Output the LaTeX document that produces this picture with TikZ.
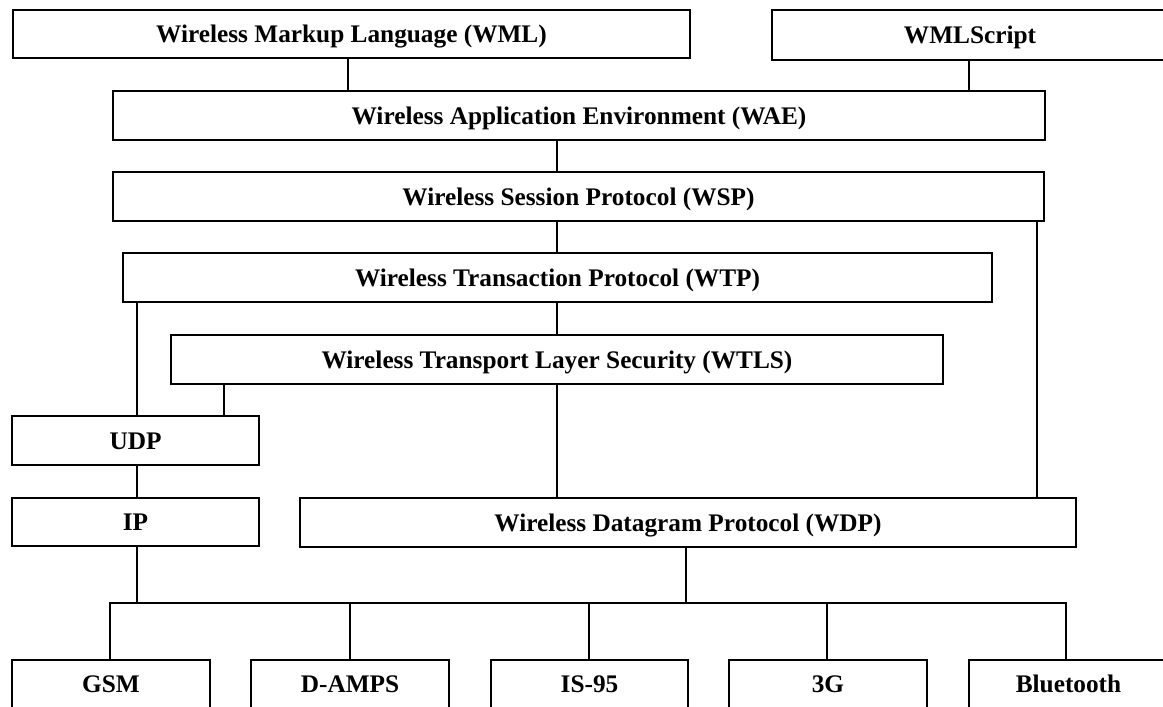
\documentclass[tikz,border=0pt]{standalone}
\usepackage{fontspec}
\setmainfont{Liberation Serif}
\begin{document}
\begin{tikzpicture}[x=1pt,y=-1pt,
  box/.style={draw=black, line width=1.3pt, rectangle, inner sep=0pt, text height=17pt, text depth=0pt, font=\fontsize{25.3}{30}\selectfont\bfseries},
  conn/.style={draw=black, line width=1.3pt}]
\useasboundingbox (0,0) rectangle (1163,707);
\clip (0,0) rectangle (1163,707);
% boxes
\node[box, minimum width=677pt, minimum height=48pt] (wml) at (351.5,34) {Wireless Markup Language (WML)};
\node[box, minimum width=396pt, minimum height=50pt] (wmls) at (970,35) {WMLScript};
\node[box, minimum width=932pt, minimum height=49pt] (wae) at (579,115.5) {Wireless Application Environment (WAE)};
\node[box, minimum width=931pt, minimum height=49pt] (wsp) at (578.5,196.5) {Wireless Session Protocol (WSP)};
\node[box, minimum width=869pt, minimum height=49pt] (wtp) at (557.5,277.5) {Wireless Transaction Protocol (WTP)};
\node[box, minimum width=772pt, minimum height=49pt] (wtls) at (557,359.5) {Wireless Transport Layer Security (WTLS)};
\node[box, minimum width=247pt, minimum height=49pt] (udp) at (135.5,440.5) {UDP};
\node[box, minimum width=247pt, minimum height=48pt] (ip) at (135.5,522) {IP};
\node[box, minimum width=776pt, minimum height=49pt] (wdp) at (688,522.5) {Wireless Datagram Protocol (WDP)};
\node[box, minimum width=198pt, minimum height=48pt] (gsm) at (111,684) {GSM};
\node[box, minimum width=198pt, minimum height=48pt] (damps) at (350,684) {D-AMPS};
\node[box, minimum width=197pt, minimum height=48pt] (is95) at (589.5,684) {IS-95};
\node[box, minimum width=198pt, minimum height=48pt] (g3) at (828,684) {3G};
\node[box, minimum width=199pt, minimum height=48pt] (bt) at (1068.5,684) {Bluetooth};
% connector x positions
\coordinate (xa) at (348,0);
\coordinate (xb) at (969,0);
\coordinate (xc) at (557,0);
\coordinate (xd) at (1037,0);
\coordinate (xe) at (137,0);
\coordinate (xf) at (224,0);
\coordinate (xg) at (686,0);
\coordinate (xh) at (350,0);
\coordinate (xi) at (589,0);
\coordinate (xj) at (827,0);
\coordinate (busL) at (110,603);
\coordinate (busR) at (1066,603);
% connectors
\draw[conn] (wml.south -| xa) -- (wae.north -| xa);
\draw[conn] (wmls.south -| xb) -- (wae.north -| xb);
\draw[conn] (wae.south -| xc) -- (wsp.north -| xc);
\draw[conn] (wsp.south -| xc) -- (wtp.north -| xc);
\draw[conn] (wtp.south -| xc) -- (wtls.north -| xc);
\draw[conn] (wtls.south -| xc) -- (wdp.north -| xc);
\draw[conn] (wsp.south -| xd) -- (wdp.north -| xd);
\draw[conn] (wtp.south -| xe) -- (udp.north -| xe);
\draw[conn] (wtls.south -| xf) -- (udp.north -| xf);
\draw[conn] (udp.south -| xe) -- (ip.north -| xe);
\draw[conn] (ip.south -| xe) -- (busL -| xe);
\draw[conn] (wdp.south -| xg) -- (busL -| xg);
\draw[conn] (gsm.north -| busL) -- (busL) -- (busR) -- (bt.north -| busR);
\draw[conn] (damps.north -| xh) -- (busL -| xh);
\draw[conn] (is95.north -| xi) -- (busL -| xi);
\draw[conn] (g3.north -| xj) -- (busL -| xj);
\end{tikzpicture}
\end{document}
